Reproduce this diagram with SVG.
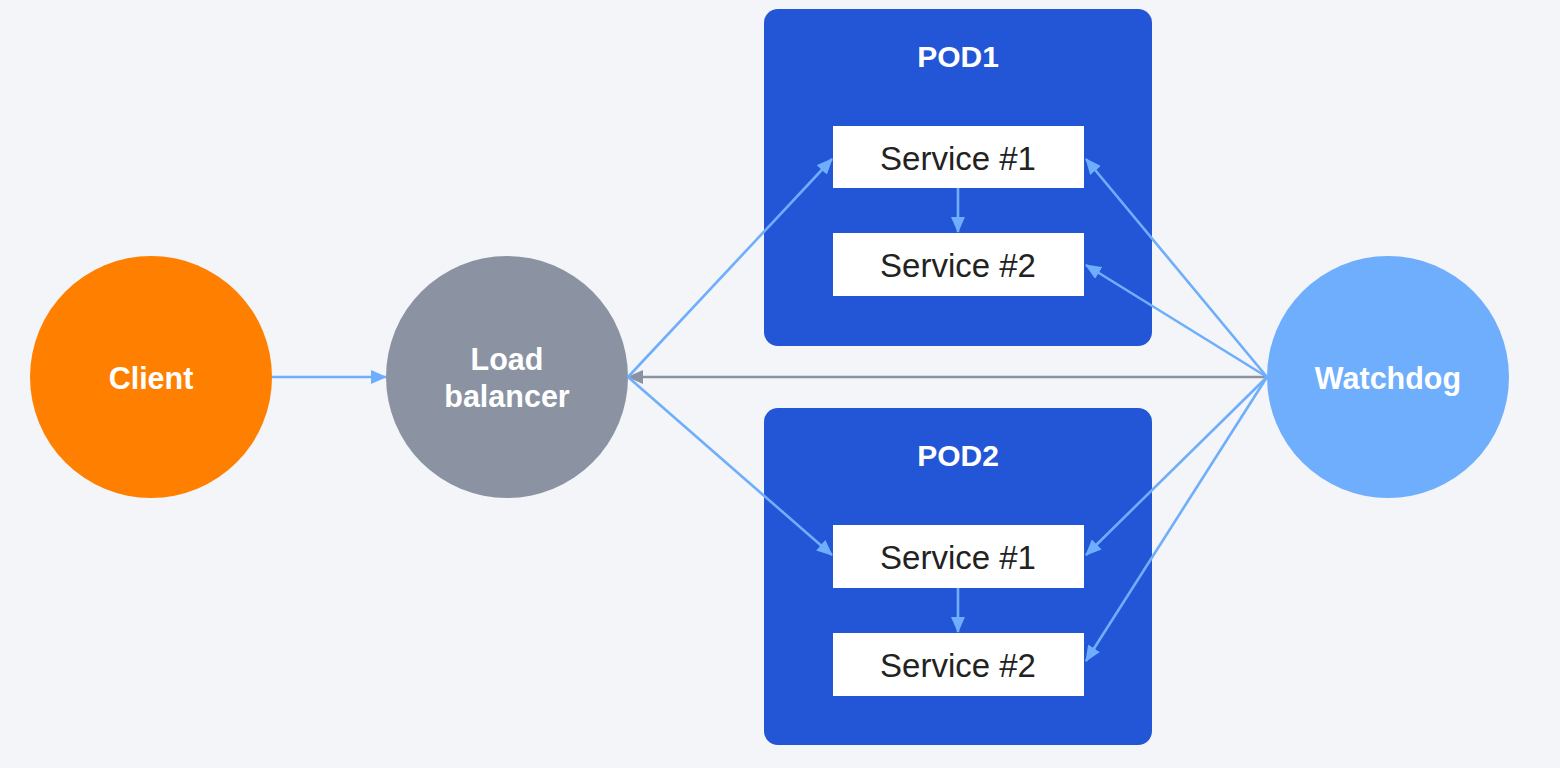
<svg xmlns="http://www.w3.org/2000/svg" width="1560" height="768" viewBox="0 0 1560 768">
<defs>
<style>
.bg{fill:#f3f5f8}
.pod{fill:#2356d6}
.svc{fill:#ffffff}
.lbl{font-family:"Liberation Sans",Arial,sans-serif;font-weight:bold;fill:#ffffff;text-anchor:middle;dominant-baseline:central}
.st{font-family:"Liberation Sans",Arial,sans-serif;fill:#222222;text-anchor:middle;dominant-baseline:central;font-size:33px}
.c{stroke:#6faefc;stroke-width:2.6;fill:none}
.g{stroke:#8b93a3;stroke-width:2.6;fill:none}
</style>
<marker id="ab" viewBox="0 0 16 14" refX="15" refY="7" markerWidth="16" markerHeight="14" markerUnits="userSpaceOnUse" orient="auto"><path d="M0,0 L16,7 L0,14 Z" fill="#6faefc"/></marker>
<marker id="ag" viewBox="0 0 16 14" refX="15" refY="7" markerWidth="16" markerHeight="14" markerUnits="userSpaceOnUse" orient="auto"><path d="M0,0 L16,7 L0,14 Z" fill="#8b93a3"/></marker>
</defs>
<rect class="bg" x="0" y="0" width="1560" height="768"/>
<g id="pod1">
<rect class="pod" x="764" y="9" width="388" height="337" rx="14"/>
<text class="lbl" x="958" y="56" font-size="30">POD1</text>
</g>
<g id="pod2">
<rect class="pod" x="764" y="408" width="388" height="337" rx="14"/>
<text class="lbl" x="958" y="455" font-size="30">POD2</text>
</g>
<g id="pod1-s1"><rect class="svc" x="833" y="126" width="251" height="62"/><text class="st" x="958" y="158">Service #1</text></g>
<g id="pod1-s2"><rect class="svc" x="833" y="233" width="251" height="63"/><text class="st" x="958" y="265">Service #2</text></g>
<g id="pod2-s1"><rect class="svc" x="833" y="525" width="251" height="63"/><text class="st" x="958" y="557">Service #1</text></g>
<g id="pod2-s2"><rect class="svc" x="833" y="633" width="251" height="63"/><text class="st" x="958" y="665">Service #2</text></g>
<g id="client"><circle cx="151" cy="377" r="121" fill="#ff7f00"/><text class="lbl" x="151" y="378" font-size="30.5">Client</text></g>
<g id="lb"><circle cx="507" cy="377" r="121" fill="#8b93a3"/><text class="lbl" x="507" y="359" font-size="30.5">Load</text><text class="lbl" x="507" y="396" font-size="30.5">balancer</text></g>
<g id="watchdog"><circle cx="1388" cy="377" r="121" fill="#6faefc"/><text class="lbl" x="1388" y="378" font-size="30.5">Watchdog</text></g>
<g id="connectors">
<line class="c" x1="272" y1="377" x2="386" y2="377" marker-end="url(#ab)"/>
<line class="g" x1="1267" y1="377" x2="628" y2="377" marker-end="url(#ag)"/>
<line class="c" x1="628" y1="377" x2="832" y2="159" marker-end="url(#ab)"/>
<line class="c" x1="628" y1="377" x2="832" y2="555" marker-end="url(#ab)"/>
<line class="c" x1="1267" y1="377" x2="1086" y2="159" marker-end="url(#ab)"/>
<line class="c" x1="1267" y1="377" x2="1086" y2="265" marker-end="url(#ab)"/>
<line class="c" x1="1267" y1="377" x2="1086" y2="555" marker-end="url(#ab)"/>
<line class="c" x1="1267" y1="377" x2="1086" y2="661" marker-end="url(#ab)"/>
<line class="c" x1="958" y1="188" x2="958" y2="232" marker-end="url(#ab)"/>
<line class="c" x1="958" y1="588" x2="958" y2="632" marker-end="url(#ab)"/>
</g>
</svg>
